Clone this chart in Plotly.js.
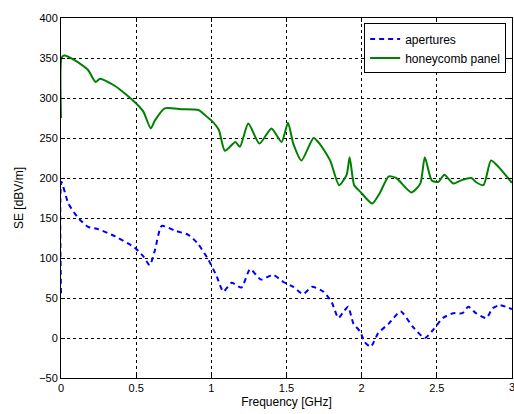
<!DOCTYPE html>
<html><head><meta charset="utf-8">
<script src="https://cdn.plot.ly/plotly-3.0.1.min.js"></script>
<style>body{margin:0;background:#fff}#chart{width:514px;height:414px}</style>
</head><body><div id="chart"></div>
<script>
var honeyX = [0, 0.003, 0.02, 0.093, 0.18, 0.23, 0.26, 0.36, 0.49, 0.548, 0.597, 0.625, 0.69, 0.80, 0.914, 0.98, 1.0, 1.05, 1.09, 1.16, 1.19, 1.246, 1.32, 1.40, 1.467, 1.51, 1.545, 1.60, 1.68, 1.72, 1.79, 1.85, 1.90, 1.92, 1.95, 1.99, 2.07, 2.12, 2.18, 2.23, 2.33, 2.39, 2.42, 2.466, 2.51, 2.55, 2.61, 2.66, 2.73, 2.76, 2.81, 2.86, 2.90, 3.0];
var honeyY = [275, 350, 353, 347, 335, 320, 324, 315, 295, 283, 262, 272, 287, 286, 285, 275, 272, 260, 234, 245, 239, 268, 243, 262, 245, 269, 243, 222, 250, 243, 222, 191, 204, 226, 191, 183, 168, 181, 202, 200, 182, 193, 226, 197, 195, 204, 193, 197, 200, 195, 191, 222, 216, 194];
var apertX = [0, 0.003, 0.049, 0.115, 0.18, 0.248, 0.36, 0.49, 0.548, 0.59, 0.625, 0.67, 0.76, 0.847, 0.91, 0.98, 1.036, 1.08, 1.135, 1.20, 1.258, 1.33, 1.41, 1.48, 1.545, 1.61, 1.67, 1.745, 1.80, 1.845, 1.88, 1.91, 1.945, 1.99, 2.02, 2.06, 2.11, 2.18, 2.26, 2.34, 2.42, 2.47, 2.54, 2.61, 2.67, 2.71, 2.76, 2.83, 2.87, 2.92, 3.0];
var apertY = [56, 195, 168, 150, 139, 136, 127, 113, 102, 91, 110, 140, 134, 129, 118, 98, 77, 58, 69, 63, 86, 73, 79, 70, 64, 55, 64, 58, 45, 25, 33, 39, 18, 8, -5, -11, 6, 18, 33, 14, 0, 9, 25, 31, 31, 39, 31, 25, 37, 41, 36];
var xTicks = [0, 0.5, 1, 1.5, 2, 2.5, 3];
var xTickText = ['0', '0.5', '1', '1.5', '2', '2.5', '3'];
var yTicks = [-50, 0, 50, 100, 150, 200, 250, 300, 350, 400];

var FONT = 'Liberation Sans, Arial, sans-serif';
var traces = [
  {x: apertX, y: apertY, name: 'apertures', mode: 'lines', line: {color: '#0000ff', width: 2, dash: '5px,4px', shape: 'spline', smoothing: 0.6}},
  {x: honeyX, y: honeyY, name: 'honeycomb panel', mode: 'lines', line: {color: '#008000', width: 2, shape: 'spline', smoothing: 0.6}}
];
var axisCommon = {showline: true, linecolor: '#000', linewidth: 1, mirror: 'ticks', ticks: 'inside', ticklen: 4, tickcolor: '#000',
  showgrid: true, gridcolor: '#000', griddash: 'dot', gridwidth: 1, zeroline: false,
  tickfont: {family: FONT, size: 11, color: '#000'}};
// the last x tick label sits on the page edge; draw it as an annotation so it is not dropped
var lastIdx = xTicks.length - 1;
var layout = {
  width: 514, height: 414,
  margin: {l: 61, r: 2, t: 18, b: 36},
  paper_bgcolor: '#fff', plot_bgcolor: '#fff',
  showlegend: true,
  legend: {x: 0.987, y: 0.985, xanchor: 'right', yanchor: 'top', bgcolor: '#fff', bordercolor: '#000', borderwidth: 1,
    font: {family: FONT, size: 12, color: '#000'}, tracegroupgap: 0},
  xaxis: Object.assign({}, axisCommon, {range: [0, 3], tickvals: xTicks.slice(0, lastIdx), ticktext: xTickText.slice(0, lastIdx),
    title: {text: 'Frequency [GHz]', standoff: 4, font: {family: FONT, size: 12, color: '#000'}}}),
  yaxis: Object.assign({}, axisCommon, {range: [-50, 400], tickvals: yTicks,
    title: {text: 'SE [dBV/m]', standoff: 12, font: {family: FONT, size: 12, color: '#000'}}}),
  annotations: [{x: xTicks[lastIdx], y: 0, xref: 'x', yref: 'paper', yanchor: 'top', xanchor: 'center', yshift: -1,
    text: xTickText[lastIdx], showarrow: false, font: {family: FONT, size: 11, color: '#000'}}]
};
Plotly.newPlot('chart', traces, layout, {displayModeBar: false, staticPlot: true});
</script>
</body></html>
